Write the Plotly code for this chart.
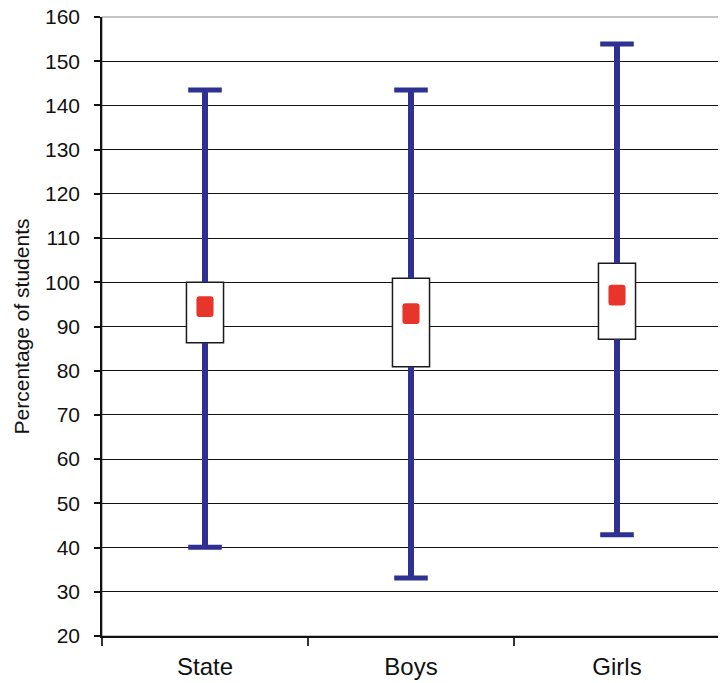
import plotly.graph_objects as go

categories = ["State", "Boys", "Girls"]
whisker_low = [40.1, 33.1, 42.9]
whisker_high = [143.5, 143.5, 153.9]
box_low = [86.3, 80.9, 87.1]
box_high = [100.0, 100.9, 104.3]
means = [94.5, 92.9, 97.1]
y_ticks = list(range(20, 161, 10))

BLUE = "#2E3192"
RED = "#E8352B"
FONT = "Liberation Sans, Arial, sans-serif"

fig = go.Figure()

# box (white rectangle with dark outline)
fig.add_trace(go.Bar(
    x=categories, y=[h - l for h, l in zip(box_high, box_low)], base=box_low,
    width=0.18, marker=dict(color="white", line=dict(color="#1a1a1a", width=1.5)),
    hoverinfo="skip", showlegend=False))

# mean marker (red rounded rectangle)
MH = 4.7
fig.add_trace(go.Bar(
    x=categories, y=[MH] * len(means), base=[m - MH / 2 for m in means],
    width=0.083, marker=dict(color=RED, line=dict(width=0), cornerradius=3),
    hoverinfo="skip", showlegend=False))

# whisker segments
wx, wy = [], []
for c, lo, q1, q3, hi in zip(categories, whisker_low, box_low, box_high, whisker_high):
    wx += [c, c, None, c, c, None]
    wy += [lo, q1, None, q3, hi, None]
fig.add_trace(go.Scatter(
    x=wx, y=wy, mode="lines", line=dict(color=BLUE, width=6),
    hoverinfo="skip", showlegend=False))

# caps
fig.add_trace(go.Scatter(
    x=categories * 2, y=whisker_low + whisker_high, mode="markers",
    marker=dict(symbol="line-ew", size=24, line=dict(color=BLUE, width=5)),
    hoverinfo="skip", showlegend=False))

# plot area border (gray top/right)
fig.add_shape(type="rect", xref="paper", yref="paper", x0=0, x1=1, y0=0, y1=1,
              line=dict(color="#8a8a8a", width=1.2), layer="below")

fig.update_layout(
    width=718, height=675,
    margin=dict(l=94, r=6, t=9, b=47),
    plot_bgcolor="white", paper_bgcolor="white",
    barmode="overlay",
    font=dict(family=FONT, color="#111"),
    xaxis=dict(
        type="category", range=[-0.5, 2.5], tickson="boundaries",
        ticks="outside", ticklen=8, tickwidth=1.5, tickcolor="#333",
        showline=True, linecolor="#111", linewidth=1.5,
        showgrid=False, tickfont=dict(size=24, family=FONT, color="#111"),
        ticklabelstandoff=8, automargin=False,
    ),
    yaxis=dict(
        range=[20, 160], tickvals=y_ticks, ticks="outside", ticklen=6,
        tickwidth=2, tickcolor="#111",
        showline=True, linecolor="#111", linewidth=1.5,
        showgrid=True, gridcolor="#111", gridwidth=1,
        tickfont=dict(size=21, family=FONT, color="#111"),
        ticklabelstandoff=10, automargin=False, ticklabeloverflow="allow",
        title=dict(text="Percentage of students", font=dict(size=21, family=FONT, color="#111"), standoff=10),
        zeroline=False,
    ),
)

fig.write_html("out.html")
